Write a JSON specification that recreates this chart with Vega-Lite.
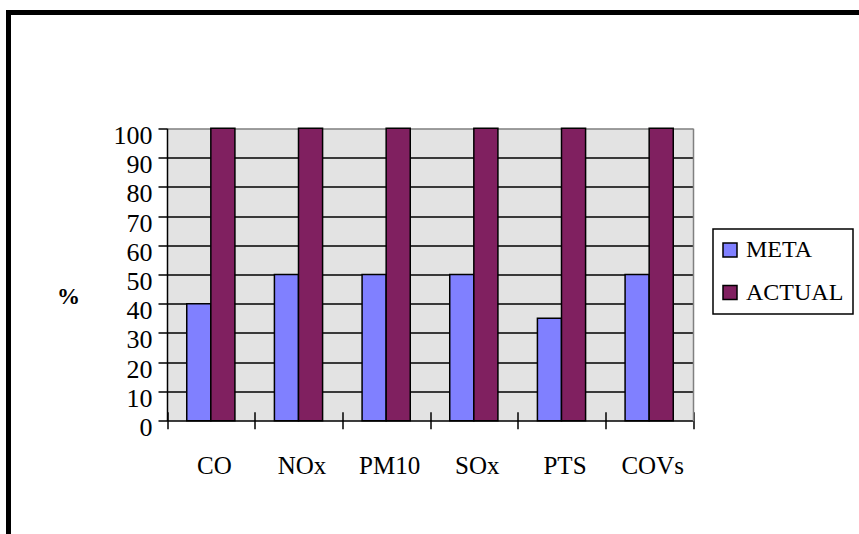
{
  "$schema": "https://vega.github.io/schema/vega-lite/v6.json",
  "width": 870,
  "height": 540,
  "autosize": {"type": "none"},
  "padding": {"left": 8.5, "top": 12.5, "right": -19.5, "bottom": -18.5},
  "background": "white",
  "view": {"stroke": "black", "strokeWidth": 5, "fill": null},
  "data": {
    "values": [
      {"contaminante": "CO", "serie": "META", "porcentaje": 40},
      {"contaminante": "CO", "serie": "ACTUAL", "porcentaje": 100},
      {"contaminante": "NOx", "serie": "META", "porcentaje": 50},
      {"contaminante": "NOx", "serie": "ACTUAL", "porcentaje": 100},
      {"contaminante": "PM10", "serie": "META", "porcentaje": 50},
      {"contaminante": "PM10", "serie": "ACTUAL", "porcentaje": 100},
      {"contaminante": "SOx", "serie": "META", "porcentaje": 50},
      {"contaminante": "SOx", "serie": "ACTUAL", "porcentaje": 100},
      {"contaminante": "PTS", "serie": "META", "porcentaje": 35},
      {"contaminante": "PTS", "serie": "ACTUAL", "porcentaje": 100},
      {"contaminante": "COVs", "serie": "META", "porcentaje": 50},
      {"contaminante": "COVs", "serie": "ACTUAL", "porcentaje": 100}
    ]
  },
  "encoding": {
    "x": {
      "field": "contaminante",
      "type": "nominal",
      "sort": ["CO", "NOx", "PM10", "SOx", "PTS", "COVs"],
      "scale": {"range": [158.5, 684.5], "paddingInner": 0, "paddingOuter": 0},
      "axis": {
        "title": null,
        "orient": "bottom",
        "offset": -140.8,
        "domain": false,
        "grid": false,
        "tickBand": "extent",
        "tickSize": 17,
        "tickColor": "black",
        "tickWidth": 1.5,
        "labelFont": "Liberation Serif",
        "labelFontSize": 25,
        "labelColor": "black",
        "labelPadding": 25,
        "labelOffset": 3,
        "labelAngle": 0
      }
    },
    "xOffset": {
      "field": "serie",
      "type": "nominal",
      "sort": ["META", "ACTUAL"],
      "scale": {"domain": ["META", "ACTUAL"], "paddingInner": 0, "paddingOuter": 0.82}
    },
    "color": {
      "field": "serie",
      "type": "nominal",
      "sort": ["META", "ACTUAL"],
      "scale": {"domain": ["META", "ACTUAL"], "range": ["#8080ff", "#802060"]},
      "legend": {
        "title": null,
        "orient": "none",
        "legendX": 704.5,
        "legendY": 216.5,
        "direction": "vertical",
        "symbolType": "square",
        "symbolSize": 196,
        "symbolStrokeColor": "black",
        "symbolStrokeWidth": 1.5,
        "symbolOpacity": 1,
        "symbolOffset": -4,
        "labelFont": "Liberation Serif",
        "labelFontSize": 24,
        "labelColor": "black",
        "labelBaseline": "middle",
        "labelOffset": 4,
        "padding": 9,
        "rowPadding": 18.5,
        "strokeColor": "black",
        "fillColor": "white"
      }
    }
  },
  "layer": [
    {
      "transform": [{"filter": "datum.serie == 'META'"}],
      "mark": {"type": "bar", "stroke": "black", "strokeWidth": 1.5},
      "encoding": {
        "y": {
          "field": "porcentaje",
          "type": "quantitative",
          "scale": {"domain": [0, 100], "range": [408.2, 115.8], "nice": false, "zero": true},
          "axis": {
            "orient": "left",
            "offset": -158.5,
            "title": null,
            "values": [50],
            "domain": false,
            "ticks": false,
            "labels": false,
            "grid": true,
            "gridColor": "#e3e3e3",
            "gridWidth": 292.4,
            "gridOpacity": 1
          }
        }
      }
    },
    {
      "transform": [{"filter": "datum.serie == 'ACTUAL'"}],
      "mark": {"type": "bar", "stroke": "black", "strokeWidth": 1.5},
      "encoding": {
        "y": {
          "field": "porcentaje",
          "type": "quantitative",
          "scale": {"domain": [0, 100], "range": [408.2, 115.8], "nice": false, "zero": true},
          "axis": {
            "orient": "left",
            "offset": -158.5,
            "title": "%",
            "titleAngle": 0,
            "titleFont": "Liberation Serif",
            "titleFontSize": 23,
            "titleFontWeight": "bold",
            "titleColor": "black",
            "titleX": -99,
            "titleY": 283.5,
            "titleAlign": "center",
            "titleBaseline": "middle",
            "values": [0, 10, 20, 30, 40, 50, 60, 70, 80, 90, 100],
            "domainColor": "black",
            "domainWidth": 1.5,
            "tickColor": "black",
            "tickWidth": 1.5,
            "tickSize": 9,
            "labelFont": "Liberation Serif",
            "labelFontSize": 26,
            "labelColor": "black",
            "labelPadding": 6,
            "labelOffset": 7,
            "labelFlush": false,
            "labelOverlap": false,
            "grid": true,
            "gridColor": {"condition": {"test": "datum.value == 100", "value": "#808080"}, "value": "black"},
            "gridWidth": 1.5,
            "gridOpacity": 1
          }
        }
      }
    },
    {
      "transform": [{"filter": "false"}],
      "mark": {"type": "bar"},
      "encoding": {
        "y": {
          "field": "porcentaje",
          "type": "quantitative",
          "scale": {"domain": [0, 100], "range": [408.2, 115.8], "nice": false, "zero": true},
          "axis": {
            "orient": "right",
            "offset": -185.5,
            "title": null,
            "domainColor": "#808080",
            "domainWidth": 1.5,
            "ticks": false,
            "labels": false,
            "grid": false
          }
        }
      }
    }
  ],
  "resolve": {"axis": {"y": "independent"}},
  "config": {
    "legend": {"strokeWidth": 1.5}
  }
}
